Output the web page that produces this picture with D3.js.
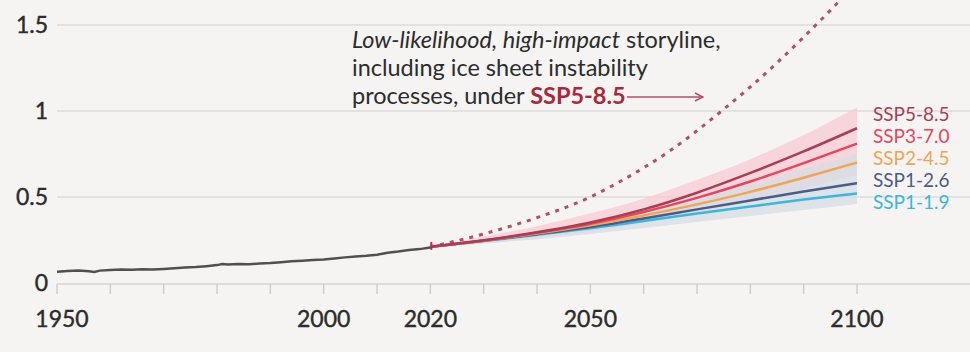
<!DOCTYPE html>
<html>
<head>
<meta charset="utf-8">
<script src="https://cdn.jsdelivr.net/npm/d3@7"></script>
<style>
  body { margin: 0; background: #f5f4f2; }
  svg { display: block; font-family: Lato, "Open Sans", sans-serif; }
</style>
</head>
<body>
<div id="chart"></div>
<script>
var width = 970,
    height = 352;

// observed sea level rise (m), 1950-2020
var histYears = [1950, 1952, 1954, 1956, 1957, 1958, 1960, 1962, 1964, 1966, 1968, 1970, 1972, 1974, 1976, 1978, 1980, 1981, 1982, 1984, 1986, 1988, 1990, 1992, 1994, 1996, 1998, 2000, 2002, 2004, 2006, 2008, 2010, 2012, 2014, 2016, 2018, 2020];
var histValues = [0.066, 0.070, 0.072, 0.068, 0.064, 0.072, 0.076, 0.078, 0.077, 0.080, 0.079, 0.082, 0.086, 0.090, 0.093, 0.098, 0.104, 0.111, 0.108, 0.110, 0.109, 0.113, 0.116, 0.121, 0.126, 0.130, 0.134, 0.137, 0.143, 0.149, 0.154, 0.158, 0.164, 0.176, 0.183, 0.192, 0.197, 0.206];

// projections
var projYears = [2020, 2030, 2040, 2050, 2060, 2070, 2080, 2090, 2100];
var ssp585 = [0.21, 0.248, 0.295, 0.352, 0.428, 0.525, 0.64, 0.765, 0.90];
var ssp370 = [0.21, 0.247, 0.292, 0.345, 0.413, 0.495, 0.59, 0.697, 0.81];
var ssp245 = [0.21, 0.246, 0.288, 0.336, 0.393, 0.457, 0.53, 0.612, 0.70];
var ssp126 = [0.21, 0.245, 0.284, 0.326, 0.375, 0.428, 0.48, 0.532, 0.58];
var ssp119 = [0.21, 0.244, 0.28, 0.318, 0.361, 0.404, 0.445, 0.485, 0.52];

// likely ranges
var ssp585Low = [0.21, 0.23, 0.265, 0.30, 0.35, 0.41, 0.48, 0.55, 0.63];
var ssp585High = [0.21, 0.27, 0.33, 0.405, 0.49, 0.60, 0.72, 0.86, 1.02];
var ssp126Low = [0.21, 0.23, 0.255, 0.285, 0.32, 0.355, 0.39, 0.425, 0.46];
var ssp126High = [0.21, 0.26, 0.305, 0.355, 0.42, 0.49, 0.57, 0.66, 0.75];

// low-likelihood, high-impact storyline
var storyYears = [2020, 2030, 2040, 2050, 2055, 2060, 2065, 2070, 2075, 2080, 2085, 2090, 2095, 2100];
var storyValues = [0.21, 0.285, 0.38, 0.50, 0.58, 0.67, 0.77, 0.885, 1.01, 1.14, 1.28, 1.43, 1.585, 1.75];

var scenarioNames = ['SSP5-8.5', 'SSP3-7.0', 'SSP2-4.5', 'SSP1-2.6', 'SSP1-1.9'];
var scenarioColors = ['#a53f55', '#e4465f', '#efa558', '#4b5c86', '#3cb6d9'];
var scenarioValues = [ssp585, ssp370, ssp245, ssp126, ssp119];

var xTicks = d3.range(1950, 2101, 10);
var xLabels = [1950, 2000, 2020, 2050, 2100];
var yTicks = [0, 0.5, 1, 1.5];

var x = d3.scaleLinear().domain([1950, 2100]).range([57, 857]);
var y = d3.scaleLinear().domain([0, 1.5]).range([283, 25]);

var svg = d3.select('#chart')
    .append('svg')
    .attr('width', width)
    .attr('height', height)
    .style('background', '#f5f4f2');

// gridlines
svg.append('g')
    .selectAll('line')
    .data(yTicks.filter(d => d > 0))
    .enter()
    .append('line')
    .attr('x1', 57)
    .attr('x2', width)
    .attr('y1', d => y(d))
    .attr('y2', d => y(d))
    .attr('stroke', '#dddcda')
    .attr('stroke-width', 1.5);

// y labels
svg.append('g')
    .selectAll('text')
    .data(yTicks)
    .enter()
    .append('text')
    .attr('x', 48)
    .attr('y', d => y(d))
    .attr('dy', '0.36em')
    .attr('text-anchor', 'end')
    .attr('font-size', 23)
    .attr('fill', '#2c2c2c')
    .attr('stroke', '#2c2c2c')
    .attr('stroke-width', 0.4)
    .text(d => d);

// x axis
svg.append('line')
    .attr('x1', 57)
    .attr('x2', width)
    .attr('y1', y(0) + 1)
    .attr('y2', y(0) + 1)
    .attr('stroke', '#dddcda')
    .attr('stroke-width', 2);

svg.append('g')
    .selectAll('line')
    .data(xTicks)
    .enter()
    .append('line')
    .attr('x1', d => x(d))
    .attr('x2', d => x(d))
    .attr('y1', y(0) + 1)
    .attr('y2', y(0) + 11)
    .attr('stroke', '#cfcecc')
    .attr('stroke-width', 1.5);

svg.append('g')
    .selectAll('text')
    .data(xLabels)
    .enter()
    .append('text')
    .attr('x', d => x(d) + (d === 1950 ? 5 : 0))
    .attr('y', 327)
    .attr('text-anchor', 'middle')
    .attr('font-size', 23)
    .attr('fill', '#2c2c2c')
    .attr('stroke', '#2c2c2c')
    .attr('stroke-width', 0.4)
    .text(d => d);

// ranges
var area = d3.area()
    .x(d => x(d.year))
    .y0(d => y(d.lo))
    .y1(d => y(d.hi))
    .curve(d3.curveMonotoneX);

function rangeData(lo, hi) {
    return projYears.map((yr, i) => ({ year: yr, lo: lo[i], hi: hi[i] }));
}

svg.append('path')
    .datum(rangeData(ssp585Low, ssp585High))
    .attr('d', area)
    .attr('fill', '#f8cbd3')
    .attr('opacity', 0.75);

svg.append('path')
    .datum(rangeData(ssp126Low, ssp126High))
    .attr('d', area)
    .attr('fill', '#d6dce6')
    .attr('opacity', 0.75);

// storyline
var line = d3.line()
    .x(d => x(d[0]))
    .y(d => y(d[1]))
    .curve(d3.curveMonotoneX);

svg.append('path')
    .datum(d3.zip(storyYears, storyValues))
    .attr('d', line)
    .attr('fill', 'none')
    .attr('stroke', '#b24f68')
    .attr('stroke-width', 3)
    .attr('stroke-dasharray', '4 6');

// scenario lines (lowest first so the top ones sit above)
scenarioValues.slice().reverse().forEach(function (vals, j) {
    var i = scenarioValues.length - 1 - j;
    svg.append('path')
        .datum(d3.zip(projYears, vals))
        .attr('d', line)
        .attr('fill', 'none')
        .attr('stroke', scenarioColors[i])
        .attr('stroke-width', 2.5);
});

// historical
svg.append('path')
    .datum(d3.zip(histYears, histValues))
    .attr('d', d3.line().x(d => x(d[0])).y(d => y(d[1])))
    .attr('fill', 'none')
    .attr('stroke', '#505050')
    .attr('stroke-width', 2.5);

svg.append('line')
    .attr('x1', x(2020) + 1)
    .attr('x2', x(2020) + 1)
    .attr('y1', y(0.21) - 5)
    .attr('y2', y(0.21) + 3)
    .attr('stroke', '#c0283c')
    .attr('stroke-width', 2);

// scenario labels
svg.append('g')
    .selectAll('text')
    .data(scenarioNames)
    .enter()
    .append('text')
    .attr('x', 873)
    .attr('y', (d, i) => 114 + i * 22)
    .attr('dy', '0.36em')
    .attr('font-size', 19)
    .attr('fill', (d, i) => scenarioColors[i])
    .text(d => d);

// annotation
var note = svg.append('text')
    .attr('font-size', 23.5)
    .attr('fill', '#2c2c2c');

var l1 = note.append('tspan').attr('x', 352).attr('y', 48);
l1.append('tspan').attr('font-style', 'italic').text('Low-likelihood, high-impact');
l1.append('tspan').text(' storyline,');
note.append('tspan').attr('x', 352).attr('y', 76).text('including ice sheet instability');
var l3 = note.append('tspan').attr('x', 352).attr('y', 104);
l3.append('tspan').text('processes, under ');
l3.append('tspan').attr('fill', '#a8283c').attr('font-weight', 'bold').text('SSP5-8.5');

svg.append('defs')
    .append('marker')
    .attr('id', 'arrow')
    .attr('viewBox', '0 0 10 10')
    .attr('refX', 9)
    .attr('refY', 5)
    .attr('markerWidth', 10)
    .attr('markerHeight', 10)
    .attr('markerUnits', 'userSpaceOnUse')
    .attr('orient', 'auto')
    .append('path')
    .attr('d', 'M1,1 L9,5 L1,9')
    .attr('fill', 'none')
    .attr('stroke', '#b24f68')
    .attr('stroke-width', 1.5);

svg.append('line')
    .attr('x1', 627)
    .attr('x2', 703)
    .attr('y1', 97)
    .attr('y2', 97)
    .attr('stroke', '#b24f68')
    .attr('stroke-width', 1.5)
    .attr('marker-end', 'url(#arrow)');
</script>
</body>
</html>
